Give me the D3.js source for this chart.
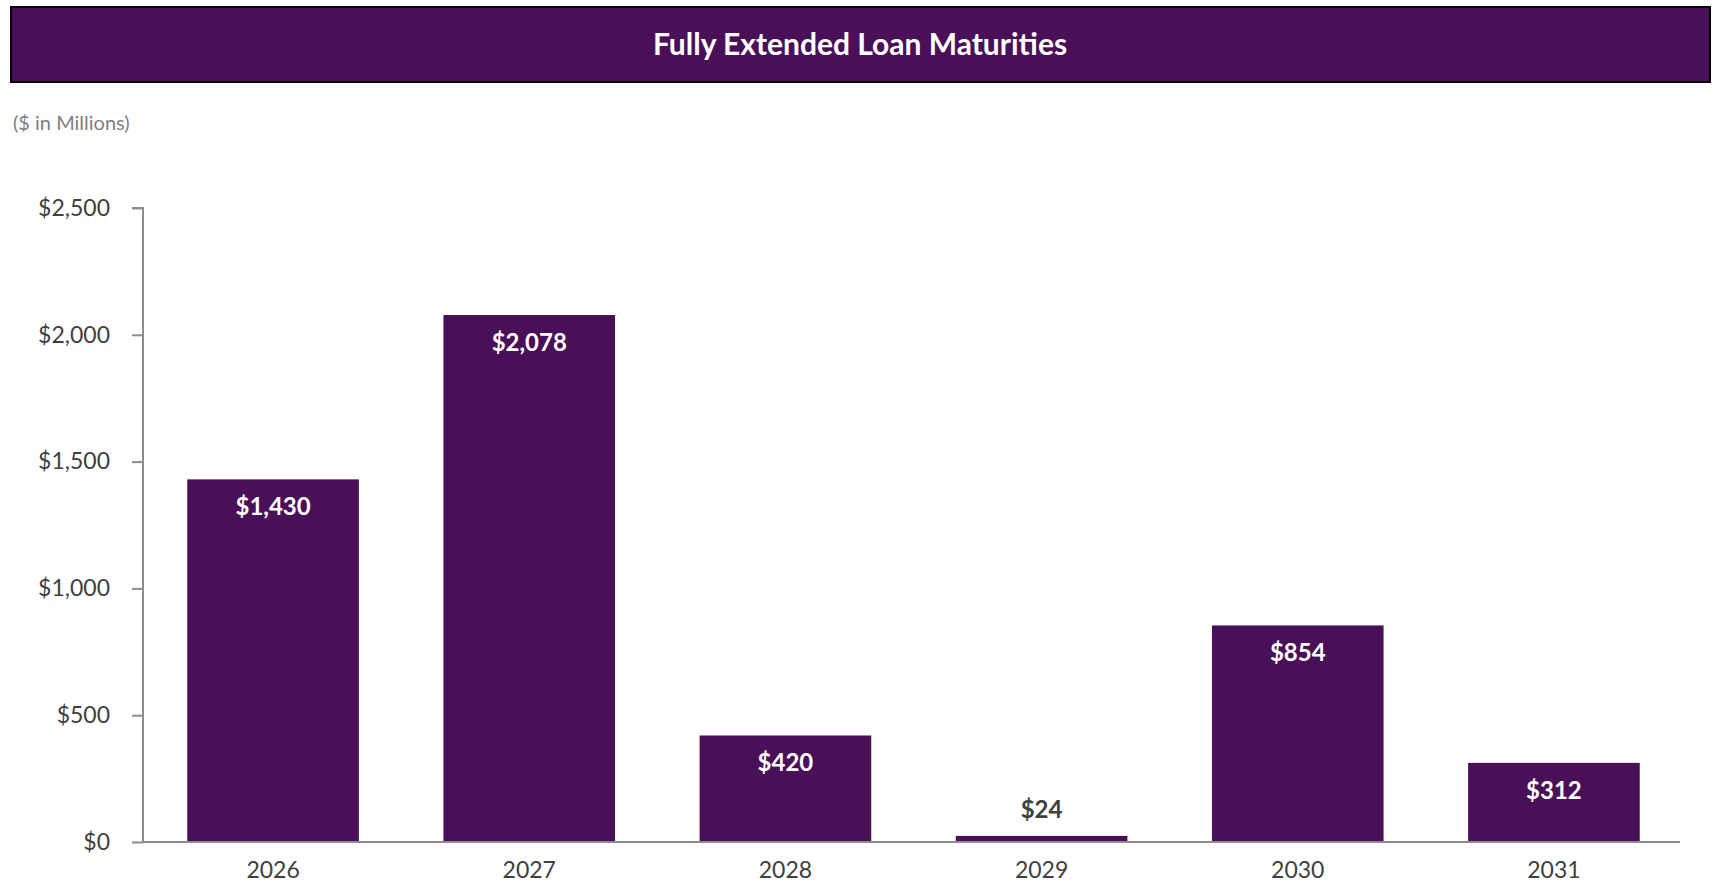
<!DOCTYPE html>
<html>
<head>
<meta charset="utf-8">
<script src="https://cdn.jsdelivr.net/npm/d3@7"></script>
<style>
  body { margin: 0; background: #fff; font-family: Lato, "Open Sans", sans-serif; }
  svg { display: block; }
</style>
</head>
<body>
<svg id="chart" width="1717" height="885"></svg>
<script>
// chart data
const years = ['2026', '2027', '2028', '2029', '2030', '2031'];
const maturities = [1430, 2078, 420, 24, 854, 312];
const yTicks = [0, 500, 1000, 1500, 2000, 2500];

const purple = '#4a1057';
const textGray = '#404040';
const axisGray = '#8c8c8c';

const svg = d3.select('#chart');

// title banner
svg.append('rect')
  .attr('x', 11).attr('y', 7)
  .attr('width', 1699).attr('height', 75)
  .attr('fill', purple)
  .attr('stroke', '#000')
  .attr('stroke-width', 2);

svg.append('text')
  .attr('x', 860).attr('y', 43)
  .attr('text-anchor', 'middle')
  .attr('dominant-baseline', 'central')
  .attr('fill', '#fff')
  .style('font-weight', 700)
  .style('font-size', '30px')
  .text('Fully Extended Loan Maturities');

svg.append('text')
  .attr('x', 13).attr('y', 130)
  .attr('fill', '#7f7f7f')
  .style('font-size', '20px')
  .text('($ in Millions)');

// plot area
const plotLeft = 143, plotRight = 1680, plotTop = 208, plotBottom = 842;

const x = d3.scaleBand()
  .domain(years)
  .range([plotLeft + 2, plotRight + 2])
  .paddingInner(0.33)
  .paddingOuter(0.165);

const y = d3.scaleLinear()
  .domain([0, 2500])
  .range([plotBottom, plotTop]);

const fmt = d3.format(',');

// y axis
const yAxis = svg.append('g')
  .attr('transform', `translate(${plotLeft},0)`)
  .call(d3.axisLeft(y).tickValues(yTicks).tickSize(11).tickPadding(22).tickFormat(d => '$' + fmt(d)));
yAxis.selectAll('path, line').attr('stroke', axisGray).attr('stroke-width', 2);
yAxis.select('.domain').attr('d', `M-11,${plotTop}H0V${plotBottom}`);
yAxis.selectAll('text')
  .attr('fill', textGray)
  .style('font-family', 'Lato, sans-serif')
  .style('font-size', '23px');

// bars
svg.append('g')
  .selectAll('rect')
  .data(maturities)
  .join('rect')
  .attr('x', (d, i) => x(years[i]))
  .attr('y', d => y(d))
  .attr('width', x.bandwidth())
  .attr('height', d => plotBottom - y(d))
  .attr('fill', purple);

// x axis
const xAxis = svg.append('g')
  .attr('transform', `translate(0,${plotBottom})`)
  .call(d3.axisBottom(x).tickSize(0).tickPadding(20));
xAxis.select('.domain').attr('stroke', axisGray).attr('stroke-width', 2)
  .attr('d', `M${plotLeft},0H${plotRight}`);
xAxis.selectAll('text')
  .attr('fill', textGray)
  .style('font-family', 'Lato, sans-serif')
  .style('font-size', '23px');

// value labels: inside the bar when it is tall enough, above it otherwise
svg.append('g')
  .selectAll('text')
  .data(maturities)
  .join('text')
  .attr('x', (d, i) => x(years[i]) + x.bandwidth() / 2)
  .attr('y', d => (plotBottom - y(d) > 50 ? y(d) + 36 : y(d) - 18))
  .attr('text-anchor', 'middle')
  .attr('fill', d => (plotBottom - y(d) > 50 ? '#fff' : textGray))
  .style('font-weight', 700)
  .style('font-size', '24px')
  .text(d => '$' + fmt(d));
</script>
</body>
</html>
